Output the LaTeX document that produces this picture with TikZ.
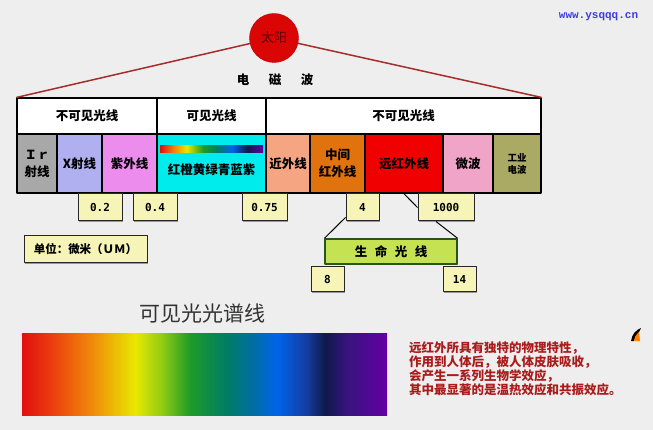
\documentclass[tikz,border=0pt]{standalone}
\usepackage{fontspec}
\setmainfont{Noto Sans CJK SC}
\newfontfamily\numfont{DejaVu Sans Mono}
\newfontfamily\urlfont{Liberation Mono}
\usetikzlibrary{shadows}
\definecolor{bg}{RGB}{238,238,238}
\definecolor{sunred}{RGB}{218,6,6}
\definecolor{suntext}{RGB}{95,0,0}
\definecolor{rayline}{RGB}{165,45,45}
\definecolor{irgray}{RGB}{168,168,168}
\definecolor{xlav}{RGB}{176,176,240}
\definecolor{uvpink}{RGB}{236,140,236}
\definecolor{viscyan}{RGB}{0,236,236}
\definecolor{nearir}{RGB}{245,165,130}
\definecolor{midir}{RGB}{225,115,15}
\definecolor{farir}{RGB}{240,0,0}
\definecolor{micro}{RGB}{240,165,200}
\definecolor{radio}{RGB}{170,170,100}
\definecolor{valfill}{RGB}{246,244,182}
\definecolor{lifegreen}{RGB}{196,226,82}
\definecolor{lifeedge}{RGB}{40,85,30}
\definecolor{noteRed}{RGB}{170,28,28}
\definecolor{urlblue}{RGB}{60,60,225}
\definecolor{sA}{RGB}{225,15,15}
\definecolor{sB}{RGB}{235,60,15}
\definecolor{sC}{RGB}{240,130,10}
\definecolor{sD}{RGB}{232,232,0}
\definecolor{sE}{RGB}{150,205,20}
\definecolor{sF}{RGB}{30,155,40}
\definecolor{sG}{RGB}{0,125,100}
\definecolor{sH}{RGB}{0,110,160}
\definecolor{sI}{RGB}{0,100,235}
\definecolor{sJ}{RGB}{20,60,160}
\definecolor{sK}{RGB}{15,25,75}
\definecolor{sL}{RGB}{55,20,125}
\definecolor{sM}{RGB}{100,0,165}
\pgfdeclarehorizontalshading{spectrum}{100bp}{color(0bp)=(sA); color(25bp)=(sA); color(29bp)=(sB); color(34bp)=(sC); color(40.5bp)=(sD); color(44bp)=(sE); color(48bp)=(sF); color(53bp)=(sG); color(56.5bp)=(sH); color(60bp)=(sI); color(64bp)=(sJ); color(66.5bp)=(sK); color(69.5bp)=(sL); color(75bp)=(sM); color(100bp)=(sM)}
\pgfdeclarehorizontalshading{minispec}{100bp}{color(0bp)=(sA); color(25bp)=(sA); color(31.5bp)=(sC); color(38bp)=(sD); color(46bp)=(sF); color(52.5bp)=(sG); color(60bp)=(sI); color(67.5bp)=(sK); color(75bp)=(sM); color(100bp)=(sM)}
\tikzset{
  hdr/.style={draw=black, line width=1.1pt, fill=white, minimum height=36pt, inner sep=0pt, font=\bfseries\fontsize{12.5}{15}\selectfont},
  band/.style={draw=black, line width=1.4pt, minimum height=59pt, inner sep=0pt, align=center, font=\bfseries\fontsize{12.5}{17}\selectfont},
  val/.style={draw=black!85, line width=1pt, fill=valfill, inner sep=0pt, font=\numfont\bfseries\fontsize{11}{13}\selectfont, drop shadow={shadow xshift=1.4pt, shadow yshift=-1.4pt, fill=black!55, opacity=.7}},
}
\begin{document}
\begin{tikzpicture}[x=1pt, y=-1pt, line join=round]
\fill[bg] (0,0) rectangle (653,430);
\useasboundingbox (0,0) rectangle (653,430);
\node[text=urlblue, font=\urlfont\bfseries\fontsize{11}{13}\selectfont] (url) at (598.5,17) {www.ysqqq.cn};
\node[circle, fill=sunred, draw=sunred!80!black, minimum size=49pt, inner sep=0pt, font=\fontsize{13}{15}\selectfont, text=suntext] (sun) at (274,38) {太阳};
\node[font=\bfseries\fontsize{12.5}{15}\selectfont] (em) at (275,80) {电\hspace{19.5pt}磁\hspace{19.5pt}波};
\node[hdr, minimum width=140pt] (hdrA) at (87,116) {不可见光线};
\node[hdr, minimum width=109pt] (hdrB) at (211.5,116) {可见光线};
\node[hdr, minimum width=275pt] (hdrC) at (403.5,116) {不可见光线};
\draw[rayline, line width=1.5pt] (sun) -- (hdrA.north west);
\draw[rayline, line width=1.5pt] (sun) -- (hdrC.north east);
\foreach \nm/\xa/\xb/\col/\txt in {ir/17/57/irgray/{Ｉｒ\\射线}, xray/57/102/xlav/{X射线}, uv/102/157/uvpink/{紫外线}, vis/157/266/viscyan/{}, near/266/310/nearir/{近外线}, mid/310/365/midir/{中间\\红外线}, far/365/443/farir/{远红外线}, micro/443/493/micro/{微波}}
  \node[band, fill=\col, minimum width={(\xb-\xa)*1pt}] (\nm) at ({(\xa+\xb)/2},163.5) {\txt};
\node[band, fill=radio, minimum width=48pt, font=\bfseries\fontsize{9.5}{12}\selectfont] (radio) at (517,163.5) {工业\\电波};
\node[shade, shading=minispec, minimum width=103pt, minimum height=7pt, inner sep=0pt] (ministrip) at (211.5,149.5) {};
\node[font=\bfseries\fontsize{12.5}{15}\selectfont] (vistext) at (211.5,170) {红橙黄绿青蓝紫};
\node[val, minimum width=44pt, minimum height=27pt] (v02) at (100,207.5) {0.2};
\node[val, minimum width=44pt, minimum height=27pt] (v04) at (155,207.5) {0.4};
\node[val, minimum width=45pt, minimum height=27pt] (v075) at (264.5,207.5) {0.75};
\node[val, minimum width=33pt, minimum height=27pt] (v4) at (362.5,207.5) {4};
\node[val, minimum width=56pt, minimum height=27pt] (v1000) at (446,207.5) {1000};
\node[val, minimum width=123pt, minimum height=27pt, font=\bfseries\fontsize{11.5}{13}\selectfont] (unit) at (85.5,249.5) {单位：微米（ＵＭ）};
\node[val, fill=lifegreen, draw=lifeedge, line width=1.3pt, minimum width=132pt, minimum height=25pt, font=\bfseries\fontsize{12.5}{15}\selectfont] (life) at (391,251.5) {生\hspace{7.5pt}命\hspace{7.5pt}光\hspace{7.5pt}线};
\node[val, minimum width=33pt, minimum height=25pt] (v8) at (327.5,279.5) {8};
\node[val, minimum width=33pt, minimum height=25pt] (v14) at (459.5,279.5) {14};
\draw[line width=1pt] (far.south) -- (v1000.west);
\draw[line width=1pt] ([yshift=4pt]v4.south west) -- (life.north west);
\draw[line width=1pt] ([xshift=-10pt]v1000.south) -- (life.north east);
\node[font=\fontsize{21}{24}\selectfont, text=black!80] (spectitle) at (202,313) {可见光光谱线};
\node[shade, shading=spectrum, minimum width=365pt, minimum height=82pt, inner sep=0pt] (spec) at (204.5,374) {};
\node[anchor=north west, inner sep=0pt, align=left, text=noteRed, font=\bfseries\fontsize{12.5}{14}\selectfont] (note) at (409,342) {远红外所具有独特的物理特性，\\作用到人体后，被人体皮肤吸收，\\会产生一系列生物学效应，\\其中最显著的是温热效应和共振效应。};
\fill[black] (631,341) .. controls (632,334) and (636,330) .. (641,328) -- (639,332) .. controls (636,334) and (635,337) .. (634,341) -- cycle;
\fill[orange] (634,341) .. controls (635,337) and (636,334) .. (639,332) -- (640,341) -- cycle;
\end{tikzpicture}
\end{document}
